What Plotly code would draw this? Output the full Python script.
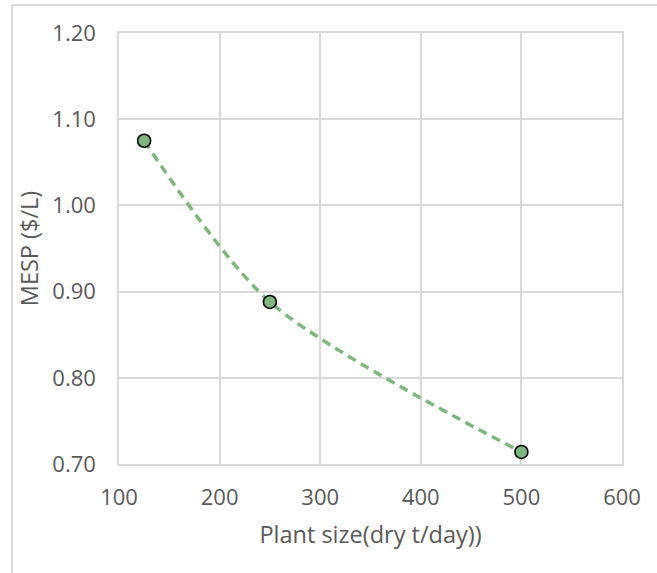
import plotly.graph_objects as go

# Plant capacity (dry t/day) and minimum ethanol selling price ($/L)
plant_size = [125, 250, 500]
mesp = [1.075, 0.888, 0.714]

x_ticks = [100, 200, 300, 400, 500, 600]
y_ticks = [0.70, 0.80, 0.90, 1.00, 1.10, 1.20]
y_tick_labels = ["0.70", "0.80", "0.90", "1.00", "1.10", "1.20"]

W, H = 657, 573
L, R, T, B = 119, 35, 33, 109

GREEN = "rgb(127,181,127)"
TEXT = "#595959"
GRID = "#d9d9d9"
FONT = "Open Sans, Calibri, sans-serif"

fig = go.Figure()
fig.add_trace(go.Scatter(
    x=plant_size, y=mesp,
    mode="lines+markers",
    line=dict(color=GREEN, width=3.5, dash="9px,6px", shape="spline", smoothing=0.8),
    marker=dict(size=13, color=GREEN, line=dict(color="black", width=1.6)),
    showlegend=False,
))

axis_common = dict(
    showgrid=True, gridcolor=GRID, gridwidth=1.5,
    showline=True, linecolor=GRID, linewidth=1.5, mirror=True,
    zeroline=False, ticks="", tickfont=dict(family=FONT, size=22, color=TEXT),
)

fig.update_layout(
    width=W, height=H,
    margin=dict(l=L, r=R, t=T, b=B),
    paper_bgcolor="white", plot_bgcolor="white",
    xaxis=dict(range=[100, 600], tickvals=x_ticks, ticklabelstandoff=13,
               title=dict(text="Plant size(dry t/day))", standoff=16,
                          font=dict(family=FONT, size=23.5, color=TEXT)),
               **axis_common),
    yaxis=dict(range=[0.70, 1.20], tickvals=y_ticks, ticktext=y_tick_labels,
               ticklabelstandoff=17,
               title=dict(text="MESP ($/L)", standoff=7,
                          font=dict(family=FONT, size=23.5, color=TEXT)),
               **axis_common),
)

# Outer chart frame (top and left edges)
pw, ph = W - L - R, H - T - B
fx0 = (12 - L) / pw
fy_top = 1 + (T - 5) / ph
fy_bot = -(B) / ph
fig.add_shape(type="line", xref="paper", yref="paper",
              x0=fx0, x1=(W - L) / pw, y0=fy_top, y1=fy_top,
              line=dict(color=GRID, width=2))
fig.add_shape(type="line", xref="paper", yref="paper",
              x0=fx0, x1=fx0, y0=fy_top, y1=fy_bot,
              line=dict(color=GRID, width=2))

fig.write_html("out.html")
